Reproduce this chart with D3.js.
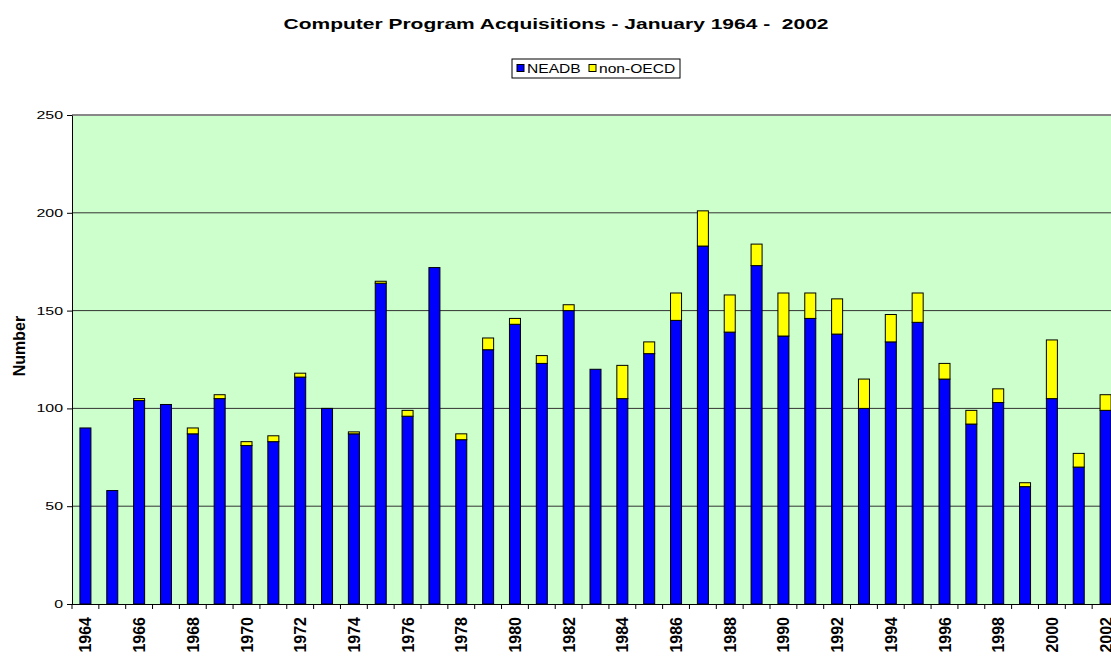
<!DOCTYPE html>
<html>
<head>
<meta charset="utf-8">
<script src="https://cdn.jsdelivr.net/npm/d3@7"></script>
<style>
  body { margin: 0; background: #fff; overflow: hidden; }
  text { font-family: "Liberation Sans", Arial, sans-serif; }
</style>
</head>
<body>
<script>
// years on the x axis
var years = d3.range(1964, 2003).map(String);

// NEADB acquisitions (blue, bottom of stack)
var neadb = [90, 58, 104, 102, 87, 105, 81, 83, 116, 100,
             87, 164, 96, 172, 84, 130, 143, 123, 150, 120,
             105, 128, 145, 183, 139, 173, 137, 146, 138, 100,
             134, 144, 115, 92, 103, 60, 105, 70, 99];

// non-OECD acquisitions (yellow, on top)
var nonOecd = [0, 0, 1, 0, 3, 2, 2, 3, 2, 0,
               1, 1, 3, 0, 3, 6, 3, 4, 3, 0,
               17, 6, 14, 18, 19, 11, 22, 13, 18, 15,
               14, 15, 8, 7, 7, 2, 30, 7, 8];

var yTicks = [0, 50, 100, 150, 200, 250];
var seriesNames = ["NEADB", "non-OECD"];
var colors = ["#0000ff", "#ffff00"];

var w = 1111, h = 660;
var plot = {left: 72, top: 115, right: 1119, bottom: 604};
var stretch = 1.45; // the original's horizontal text looks widened

var svg = d3.select("body").append("svg")
    .attr("width", w)
    .attr("height", h);

var rows = years.map(function(y, i) {
    return {year: y, NEADB: neadb[i], "non-OECD": nonOecd[i]};
});
var stacked = d3.stack().keys(seriesNames)(rows);

var x = d3.scaleBand()
    .domain(years)
    .range([plot.left, plot.right])
    .paddingInner(0.59)
    .paddingOuter(0.295);

var y = d3.scaleLinear()
    .domain([0, 250])
    .range([plot.bottom, plot.top]);

// plot background
svg.append("rect")
    .attr("x", plot.left)
    .attr("y", plot.top)
    .attr("width", plot.right - plot.left)
    .attr("height", plot.bottom - plot.top)
    .attr("fill", "#ccffcc");

// gridlines
svg.append("g")
    .selectAll("line")
    .data(yTicks.filter(function(d) { return d > 0 && d < 250; }))
    .join("line")
    .attr("x1", plot.left)
    .attr("x2", plot.right)
    .attr("y1", function(d) { return y(d); })
    .attr("y2", function(d) { return y(d); })
    .attr("stroke", "#333")
    .attr("stroke-width", 1);

// top border
svg.append("line")
    .attr("x1", plot.left).attr("x2", plot.right)
    .attr("y1", plot.top).attr("y2", plot.top)
    .attr("stroke", "#888").attr("stroke-width", 2);

// bars
svg.append("g")
    .selectAll("g")
    .data(stacked)
    .join("g")
    .attr("fill", function(d, i) { return colors[i]; })
    .selectAll("rect")
    .data(function(d) { return d.filter(function(p) { return p[1] - p[0] > 0; }); })
    .join("rect")
    .attr("x", function(d) { return x(d.data.year); })
    .attr("y", function(d) { return y(d[1]); })
    .attr("width", x.bandwidth())
    .attr("height", function(d) { return y(d[0]) - y(d[1]); })
    .attr("stroke", "#000")
    .attr("stroke-width", 1);

// y axis
var yAxis = svg.append("g")
    .attr("transform", "translate(" + plot.left + ",0)")
    .call(d3.axisLeft(y).tickValues(yTicks).tickSize(5).tickSizeOuter(0));
yAxis.select(".domain").attr("stroke", "#000");
yAxis.selectAll("text")
    .attr("font-size", 11)
    .attr("fill", "#000")
    .attr("x", -9 / stretch)
    .attr("transform", "scale(" + stretch + ",1)");

// x axis: ticks at category boundaries
var bottomAxis = svg.append("g");
bottomAxis.append("line")
    .attr("x1", plot.left).attr("x2", plot.right)
    .attr("y1", plot.bottom + 0.5).attr("y2", plot.bottom + 0.5)
    .attr("stroke", "#000");
bottomAxis.selectAll(".tick")
    .data(years)
    .join("line")
    .attr("class", "tick")
    .attr("x1", function(d) { return x(d) - x.step() * x.paddingOuter(); })
    .attr("x2", function(d) { return x(d) - x.step() * x.paddingOuter(); })
    .attr("y1", plot.bottom)
    .attr("y2", plot.bottom + 5)
    .attr("stroke", "#000");

bottomAxis.selectAll(".lbl")
    .data(years.filter(function(d) { return +d % 2 === 0; }))
    .join("text")
    .attr("class", "lbl")
    .attr("transform", function(d) {
        return "translate(" + (x(d) + x.bandwidth() / 2 + 6) + "," + (plot.bottom + 13) + ") rotate(-90)";
    })
    .attr("text-anchor", "end")
    .attr("font-size", 16)
    .attr("font-weight", "bold")
    .text(function(d) { return d; });

// y label
svg.append("text")
    .attr("transform", "translate(25,346) rotate(-90)")
    .attr("text-anchor", "middle")
    .attr("font-size", 16)
    .attr("font-weight", "bold")
    .text("Number");

// title
svg.append("text")
    .attr("transform", "translate(556,29) scale(1.4,1)")
    .attr("text-anchor", "middle")
    .attr("font-size", 15)
    .attr("font-weight", "bold")
    .style("white-space", "pre")
    .text("Computer Program Acquisitions - January 1964 -  2002");

// legend
var legend = svg.append("g").attr("transform", "translate(512,59)");
legend.append("rect")
    .attr("width", 168).attr("height", 19)
    .attr("fill", "#fff").attr("stroke", "#000");
var item = legend.selectAll(".item")
    .data(seriesNames)
    .join("g")
    .attr("class", "item")
    .attr("transform", function(d, i) { return "translate(" + (i === 0 ? 5 : 77) + ",0)"; });
item.append("rect")
    .attr("y", 5.5).attr("width", 7).attr("height", 7)
    .attr("fill", function(d, i) { return colors[i]; })
    .attr("stroke", "#000");
item.append("text")
    .attr("transform", "translate(10,14) scale(1.3,1)")
    .attr("font-size", 12)
    .text(function(d) { return d; });
</script>
</body>
</html>
